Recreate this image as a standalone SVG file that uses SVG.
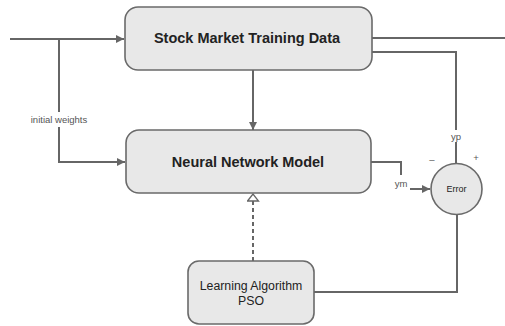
<svg xmlns="http://www.w3.org/2000/svg" width="505" height="326" viewBox="0 0 505 326">
<defs>
<style>
.box{fill:#e8e8e8;stroke:#6a6a6a;stroke-width:1.6}
.ln{fill:none;stroke:#666;stroke-width:2}
.t{font-family:"Liberation Sans",Arial,sans-serif;fill:#222}
.b{font-weight:bold;font-size:14.5px}
.s{font-size:9.5px;fill:#555}
</style>
<marker id="a" viewBox="0 0 10 10" refX="10" refY="5" markerWidth="4" markerHeight="4" orient="auto" markerUnits="strokeWidth"><path d="M0,0L10,5L0,10z" fill="#666"/></marker>
<marker id="h" viewBox="0 0 9 13" refX="8" refY="6.5" markerWidth="9" markerHeight="13" orient="auto" markerUnits="userSpaceOnUse"><path d="M1,1L8,6.5L1,12z" fill="#fff" stroke="#666" stroke-width="1.3"/></marker>
</defs>
<rect width="505" height="326" fill="#fff"/>
<g id="connectors">
<path class="ln" d="M10,39H124" marker-end="url(#a)"/>
<path class="ln" d="M59,39V112M59,127V162H125" marker-end="url(#a)"/>
<path class="ln" d="M372,38H505"/>
<path class="ln" d="M372,52H456V130M456,142V164"/>
<path class="ln" d="M253,70V130" marker-end="url(#a)"/>
<path class="ln" d="M371,162H401V175"/>
<path class="ln" d="M410,189H430" marker-end="url(#a)"/>
<path class="ln" d="M253,261V194" stroke-dasharray="4,3" marker-end="url(#h)"/>
<path class="ln" d="M314,292H457V214"/>
<text class="t s" x="59" y="123" text-anchor="middle">initial weights</text>
<text class="t s" x="456" y="140" text-anchor="middle">yp</text>
<text class="t s" x="401" y="187" text-anchor="middle">ym</text>
<text class="t s" x="432" y="163" text-anchor="middle">–</text>
<text class="t s" x="476" y="161" text-anchor="middle">+</text>
</g>
<g id="stock">
<rect class="box" x="125" y="7" width="247" height="63" rx="13"/>
<text class="t b" x="247" y="43" text-anchor="middle">Stock Market Training Data</text>
</g>
<g id="nn">
<rect class="box" x="126" y="130" width="245" height="63" rx="13"/>
<text class="t b" x="248" y="167" text-anchor="middle">Neural Network Model</text>
</g>
<g id="error">
<circle class="box" cx="456.5" cy="189" r="25.5"/>
<text class="t" x="456.5" y="192" font-size="9" text-anchor="middle" fill="#444">Error</text>
</g>
<g id="learning">
<rect class="box" x="188" y="261" width="126" height="63" rx="11"/>
<text class="t" x="251" y="290" font-size="12.3" text-anchor="middle" fill="#444">Learning Algorithm</text>
<text class="t" x="251" y="305" font-size="12.3" text-anchor="middle" fill="#444">PSO</text>
</g>
</svg>
